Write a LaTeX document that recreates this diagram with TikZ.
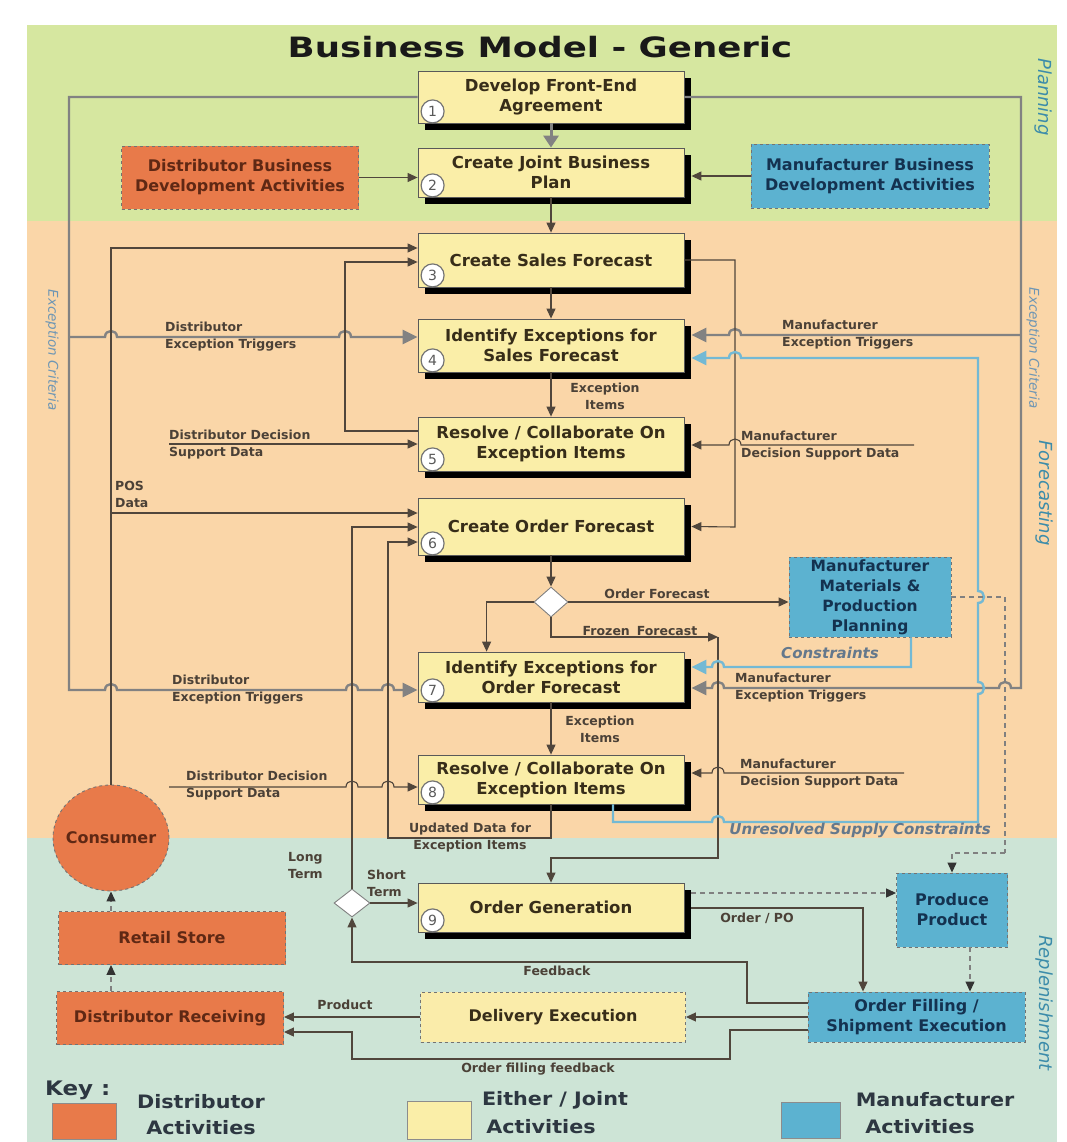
\documentclass[tikz,border=0pt]{standalone}
\usepackage{graphicx}
\usepackage{fontspec}
\setmainfont{DejaVu Sans}
\usetikzlibrary{shapes.geometric,arrows.meta,calc,shadows}

\definecolor{planbg}{RGB}{214,231,160}
\definecolor{forebg}{RGB}{250,214,168}
\definecolor{replbg}{RGB}{205,228,214}
\definecolor{jointfill}{RGB}{250,238,168}
\definecolor{delfill}{RGB}{250,236,170}
\definecolor{distfill}{RGB}{232,122,74}
\definecolor{manufill}{RGB}{92,178,208}
\definecolor{distink}{RGB}{95,40,20}
\definecolor{manuink}{RGB}{20,50,80}
\definecolor{boxink}{RGB}{55,45,25}
\definecolor{lblink}{RGB}{75,65,55}
\definecolor{lineink}{RGB}{80,70,60}
\definecolor{critline}{RGB}{130,130,130}
\definecolor{supline}{RGB}{115,185,212}
\definecolor{phase}{RGB}{60,140,170}
\definecolor{critink}{RGB}{110,150,180}
\definecolor{supink}{RGB}{100,120,140}
\definecolor{keyink}{RGB}{45,55,65}

\tikzset{
  lbl/.style={font=\bfseries\fontsize{12.5}{17}\selectfont, text=lblink, inner sep=0, align=left},
  clbl/.style={lbl, align=center},
  mainbox/.style={draw=black!65, line width=0.8pt, fill=jointfill, text=boxink,
    minimum width=266, minimum height=52, inner sep=0, align=center,
    font=\bfseries\fontsize{16.5}{20}\selectfont,
    general shadow={fill=black, shadow xshift=7pt, shadow yshift=-7pt}},
  numc/.style={circle, draw=black!55, line width=1.2pt, fill=white, minimum size=23,
    inner sep=0, font=\fontsize{14}{14}\selectfont, text=black!65},
  actbox/.style={draw=black!55, dashed, line width=0.9pt, inner sep=0, align=center,
    font=\bfseries\fontsize{16}{20}\selectfont},
  distbox/.style={actbox, fill=distfill, text=distink},
  manubox/.style={actbox, fill=manufill, text=manuink},
  jointbox/.style={actbox, fill=delfill, text=boxink},
  decision/.style={diamond, draw=black!50, line width=0.9pt, fill=white, inner sep=0},
  phaselbl/.style={font=\itshape\fontsize{18}{18}\selectfont, text=phase, rotate=-90},
  critlbl/.style={font=\itshape\fontsize{13.5}{14}\selectfont, text=critink, rotate=-90},
  suplbl/.style={font=\bfseries\itshape\fontsize{15}{15}\selectfont, text=supink},
  keytxt/.style={font=\bfseries\fontsize{18.5}{20}\selectfont, text=keyink, inner sep=0},
  keysq/.style={draw=black!45, line width=0.8pt},
  link/.style={draw=lineink, line width=1.1pt},
  arr/.style={link, -{Triangle[length=10pt,width=9pt]}},
  crit/.style={draw=critline, line width=2.4pt, -{Triangle[length=15pt,width=14pt]}},
  sup/.style={draw=supline, line width=2.4pt, -{Triangle[length=15pt,width=14pt]}},
  dline/.style={draw=black!50, line width=1.1pt, dash pattern=on 5pt off 4pt},
  darr/.style={dline, -{Triangle[length=10pt,width=9pt,color=black!80]}},
  % line jumps: rightward, leftward, upward (bump to the right)
  jr/.style args={#1/#2}{insert path={-- (#1-6,#2) .. controls (#1-6,#2-8) and (#1+6,#2-8) .. (#1+6,#2)}},
  jl/.style args={#1/#2}{insert path={-- (#1+6,#2) .. controls (#1+6,#2-8) and (#1-6,#2-8) .. (#1-6,#2)}},
  ju/.style args={#1/#2}{insert path={-- (#1,#2+6) .. controls (#1+8,#2+6) and (#1+8,#2-6) .. (#1,#2-6)}},
}

\begin{document}
\begin{tikzpicture}[x=1pt,y=-1pt]
\useasboundingbox (0,0) rectangle (1067,1142);
\fill[white] (0,0) rectangle (1067,1142);

% phase bands
\fill[planbg] (27,25) rectangle (1057,221);
\fill[forebg] (27,221) rectangle (1057,838);
\fill[replbg] (27,838) rectangle (1057,1142);

\node[font=\bfseries\fontsize{28}{32}\selectfont, text=black!90] (title) at (540,47)
  {\scalebox{1.27}[1]{Business Model - Generic}};

% phase names and exception criteria
\node[phaselbl] (pPlan) at (1043,97) {Planning};
\node[phaselbl] (pFore) at (1044,493) {Forecasting};
\node[phaselbl] (pRepl) at (1044,1003) {Replenishment};
\node[critlbl] (ecL) at (52,350) {Exception Criteria};
\node[critlbl] (ecR) at (1033,348) {Exception Criteria};

% process steps
\node[mainbox] (b1) at (551,97) {Develop Front-End\\Agreement};
\node[mainbox, minimum height=49] (b2) at (551,172.5) {Create Joint Business\\Plan};
\node[mainbox, minimum height=54] (b3) at (551,260) {Create Sales Forecast};
\node[mainbox, minimum height=53] (b4) at (551,345.5) {Identify Exceptions for\\Sales Forecast};
\node[mainbox, minimum height=54] (b5) at (551,444) {Resolve / Collaborate On\\Exception Items};
\node[mainbox, minimum height=57] (b6) at (551,526.5) {Create Order Forecast};
\node[mainbox, minimum height=50] (b7) at (551,677) {Identify Exceptions for\\Order Forecast};
\node[mainbox, minimum height=49] (b8) at (551,779.5) {Resolve / Collaborate On\\Exception Items};
\node[mainbox, minimum height=49] (b9) at (551,907.5) {Order Generation};

\foreach \b/\n in {b1/1,b2/2,b3/3,b4/4,b5/5,b6/6,b7/7,b8/8,b9/9}
  \node[numc] (n\n) at ($(\b.south west)+(15,-12)$) {\n};

% partner activities
\node[distbox, minimum width=237, minimum height=63] (dbda) at (240,177.5)
  {Distributor Business\\Development Activities};
\node[manubox, minimum width=238, minimum height=64] (mbda) at (870,176)
  {Manufacturer Business\\Development Activities};
\node[manubox, minimum width=162, minimum height=80, font=\bfseries\fontsize{15.5}{20}\selectfont]
  (mmpp) at (870,597) {Manufacturer\\Materials \&\\Production\\Planning};
\node[manubox, minimum width=111, minimum height=74] (pp) at (952,910) {Produce\\Product};
\node[manubox, minimum width=217, minimum height=50] (of) at (916.5,1017)
  {Order Filling /\\Shipment Execution};
\node[jointbox, minimum width=265, minimum height=50] (de) at (553,1017) {Delivery Execution};
\node[distbox, minimum width=227, minimum height=53] (dr) at (170,1018) {Distributor Receiving};
\node[distbox, minimum width=227, minimum height=53] (rs) at (172,938) {Retail Store};
\node[distbox, ellipse, minimum width=116, minimum height=106,
  label={[text=distink, font=\bfseries\fontsize{16}{20}\selectfont]center:Consumer}] (cons) at (111,838) {};

% decisions
\node[decision, minimum width=34, minimum height=30] (d1) at (551,602) {};
\node[decision, minimum width=36, minimum height=28] (d2) at (352,903) {};

% ---- planning flow
\draw[draw=critline, line width=3pt, -{Triangle[length=12pt,width=15pt]}] (b1.south) -- (b2.north);
\draw[arr] (dbda.east) -- (dbda.east -| b2.west);
\draw[arr] (mbda.west) -- ([xshift=7pt]mbda.west -| b2.east);
\draw[arr] (b2.south) -- (b3.north);

% ---- exception criteria (grey)
\draw[crit] (b1.west) -- (69,97) -- (69,690) [jr=111/690] [jr=352/690] [jr=388/690] -- (b7.west |- 0,690);
\draw[crit] (69,337) [jr=111/337] [jr=345/337] -- (b4.west |- 0,337);
\draw[crit] (b1.east) -- (1021,97) -- (1021,688) [jl=1005/688] [jl=718/688] -- ([xshift=7pt]b7.east |- 0,688);
\draw[crit] (1021,335) [jl=735/335] -- ([xshift=7pt]b4.east |- 0,335);
\node[lbl, anchor=west] (lDET1) at (165,337) {Distributor\\Exception Triggers};
\node[lbl, anchor=west] (lDET2) at (172,690) {Distributor\\Exception Triggers};
\node[lbl, anchor=west] (lMET1) at (782,335) {Manufacturer\\Exception Triggers};
\node[lbl, anchor=west] (lMET2) at (735,688) {Manufacturer\\Exception Triggers};

% ---- sales forecast cycle
\draw[arr] (b3.south) -- (b4.north);
\draw[arr] (b4.south) -- (b5.north);
\node[clbl] (lEI1) at (605,396) {Exception\\Items};
\draw[arr] (b5.west |- 0,431) -- (345,431) -- (345,262) -- (b3.west |- 0,262);
\draw[arr] (b3.east |- 0,260) -- (735,260) -- (735,527) -- ([xshift=7pt]b6.east);

% POS data from the consumer
\draw[arr] (cons.north) -- (111,248) -- (b3.west |- 0,248);
\draw[arr] (111,513) -- (b6.west |- 0,513);
\node[lbl, anchor=west] (lPOS) at (115,494) {POS\\Data};

% decision support data
\coordinate (dds1) at (169,444);
\draw[arr] (dds1) -- (b5.west |- dds1);
\node[lbl, anchor=west] (lDDS1) at (169,445) {Distributor Decision\\Support Data};
\coordinate (mds1) at (914,445);
\draw[arr] (mds1) [jl=735/445] -- ([xshift=7pt]b5.east |- mds1);
\node[lbl, anchor=west] (lMDS1) at (741,446) {Manufacturer\\Decision Support Data};

\coordinate (dds2) at (169,787);
\draw[arr] (dds2) [jr=352/787] [jr=388/787] -- (b8.west |- dds2);
\node[lbl, anchor=west] (lDDS2) at (186,786) {Distributor Decision\\Support Data};
\coordinate (mds2) at (904,773);
\draw[arr] (mds2) [jl=718/773] -- ([xshift=7pt]b8.east |- mds2);
\node[lbl, anchor=west] (lMDS2) at (740,774) {Manufacturer\\Decision Support Data};

% ---- order forecast cycle
\draw[arr] (b6.south) -- (d1.north);
\draw[arr] (d1.east) -- (d1.east -| mmpp.west);
\node[lbl] (lOF) at (657,594) {Order Forecast};
\draw[arr] (d1.west) -| ([xshift=69pt]b7.north west);
\coordinate (ffc) at (718,637);
\draw[arr] (d1.south) |- (ffc);
\node[lbl] (lFF) at (640,631) {Frozen\hspace{0.55em}Forecast};
\draw[arr] (ffc) -- (718,858) -| (b9.north);
\draw[arr] (b7.south) -- (b8.north);
\node[clbl] (lEI2) at (600,729) {Exception\\Items};
\draw[arr] (b8.south) -- (551,838) -- (388,838) -- (388,542) -- (b6.west |- 0,542);
\node[clbl] (lUD) at (470,838) {Updated Data for\\Exception Items};

% supply constraints (blue)
\draw[sup] ([xshift=41pt]mmpp.south) -- (911,667) [jl=718/667] -- ([xshift=7pt]b7.east |- 0,667);
\node[suplbl] (lCon) at (830,653) {Constraints};
\draw[sup] ([xshift=62pt]b8.south) -- (613,822) [jr=718/822] -- (978,822)
  [ju=978/688] [ju=978/597] -- (978,358) [jl=735/358] -- ([xshift=7pt]b4.east |- 0,358);
\node[suplbl] (lUSC) at (860,830) {Unresolved Supply Constraints};

% ---- replenishment
\draw[dline] (mmpp.east |- 0,597) -- (1005,597) -- (1005,853);
\draw[darr] (1005,853) -| (pp.north);
\draw[arr] (d2.north) -- (352,527) -- (b6.west |- 0,527);
\node[lbl, anchor=west] (lLT) at (288,866) {Long\\Term};
\draw[arr] (d2.east) -- (b9.west |- d2.east);
\node[lbl, anchor=west] (lST) at (367,883) {Short\\Term};
\draw[darr] ([xshift=7pt]b9.east |- 0,893) -- (pp.west |- 0,893);
\draw[arr] ([xshift=7pt]b9.east |- 0,908) -| ([xshift=-53.5pt]of.north);
\node[lbl] (lPO) at (757,918) {Order / PO};
\draw[darr] ([xshift=18pt]pp.south) -- ([xshift=18pt]pp.south |- of.north);
\draw[arr] (of.west |- 0,1003) -- (747,1003) -- (747,962) -- (352,962) -- (d2.south);
\node[lbl] (lFB) at (557,971) {Feedback};
\draw[arr] (of.west |- de.east) -- (de.east);
\draw[arr] (de.west) -- (dr.east |- de.west);
\node[lbl] (lProd) at (345,1005) {Product};
\draw[arr] (of.west |- 0,1030) -- (730,1030) -- (730,1059) -- (352,1059) -- (352,1032) -- (dr.east |- 0,1032);
\node[lbl] (lOFF) at (538,1069) {Order filling feedback};
\draw[darr] (dr.north -| cons.south) -- (rs.south -| cons.south);
\draw[darr] (rs.north -| cons.south) -- (cons.south);

% ---- key
\node[keytxt, font=\bfseries\fontsize{20}{22}\selectfont, anchor=west] (key) at (45,1090)
  {\scalebox{1.15}[1]{Key :}};
\draw[keysq, fill=distfill] (52,1103) rectangle (116,1139);
\draw[keysq, fill=jointfill] (407,1101) rectangle (471,1139);
\draw[keysq, fill=manufill] (781,1102) rectangle (840,1138);
\node[keytxt] (kD1) at (201,1102) {\scalebox{1.12}[1]{Distributor}};
\node[keytxt] (kD2) at (201,1128) {\scalebox{1.12}[1]{Activities}};
\node[keytxt] (kJ1) at (555,1100) {\scalebox{1.12}[1]{Either / Joint}};
\node[keytxt] (kJ2) at (541,1127) {\scalebox{1.12}[1]{Activities}};
\node[keytxt] (kM1) at (935,1100) {\scalebox{1.12}[1]{Manufacturer}};
\node[keytxt] (kM2) at (920,1127) {\scalebox{1.12}[1]{Activities}};
\end{tikzpicture}
\end{document}
